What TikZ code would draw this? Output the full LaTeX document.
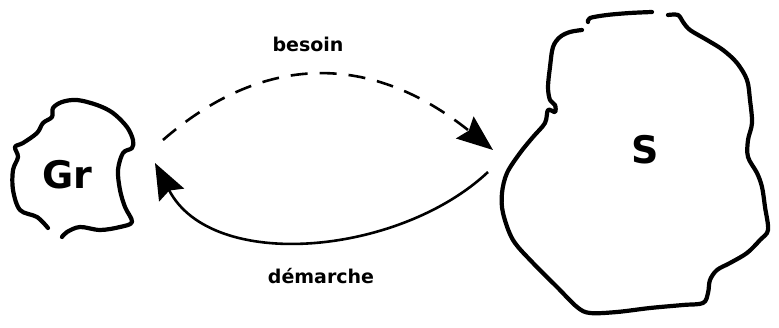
\documentclass[tikz,border=0pt]{standalone}
\usepackage{fontspec}
\setmainfont{DejaVu Sans}
\usetikzlibrary{arrows.meta}
\tikzset{
  blob/.style={line width=4.2pt, line cap=round, line join=round},
  conn/.style={line width=2.6pt, -{Stealth[length=36pt,width=28pt,inset=5pt]}},
  bigletter/.style={font=\fontsize{38}{40}\selectfont\bfseries, inner sep=0pt},
  lbl/.style={font=\fontsize{19}{22}\selectfont\bfseries, inner sep=0pt}
}
\begin{document}
\begin{tikzpicture}[x=1pt,y=-1pt]
\useasboundingbox (0,0) rectangle (779,328);
% Gr blob
\draw[blob] plot[smooth, tension=0.55] coordinates {
 (48,228) (37,217) (20,210) (13,190) (13,170) (18,157) (15,147) (23,143)
 (37,133) (43,123) (52,117) (53,108) (62,102) (77,100) (97,105) (113,113)
 (127,127) (133,140) (132,148) (123,153) (118,170) (120,190) (125,207)
 (132,222) (120,227) (100,230) (80,227) (67,232) (62,237)};
% S blob
\draw[blob] plot[smooth, tension=0.55] coordinates {
 (588,22) (590,18) (607,15) (630,13) (652,12)};
\draw[blob] plot[smooth, tension=0.55] coordinates {
 (668,15) (678,15) (683,22) (690,30) (707,40) (723,50) (737,63) (747,80)
 (750,100) (752,123) (748,140) (748,157) (757,173) (762,187) (765,207)
 (768,230) (760,240) (747,253) (730,263) (717,270) (710,280) (708,293)
 (703,303) (683,305) (650,308) (617,312) (590,313) (577,307) (557,287)
 (533,263) (513,240) (503,213) (502,193) (507,173) (520,153) (533,137)
 (545,123) (548,110) (555,112) (555,105) (550,100) (548,87) (550,67)
 (553,47) (560,37) (570,32) (582,30)};
\node[bigletter] (gr) at (67,175) {Gr};
\node[bigletter] (s) at (645,150) {S};
\coordinate (b1) at (163,140);
\coordinate (b2) at (493,150);
\coordinate (d1) at (488,172);
\coordinate (d2) at (155,163);
\draw[conn, dash pattern=on 17pt off 12pt] (b1) .. controls (250,64) and (358,42) .. (b2);
\draw[conn] (d1) .. controls (400,255) and (212,273) .. (d2);
\node[lbl] (besoin) at (308,44) {besoin};
\node[lbl] (demarche) at (321,276) {démarche};
\end{tikzpicture}
\end{document}
